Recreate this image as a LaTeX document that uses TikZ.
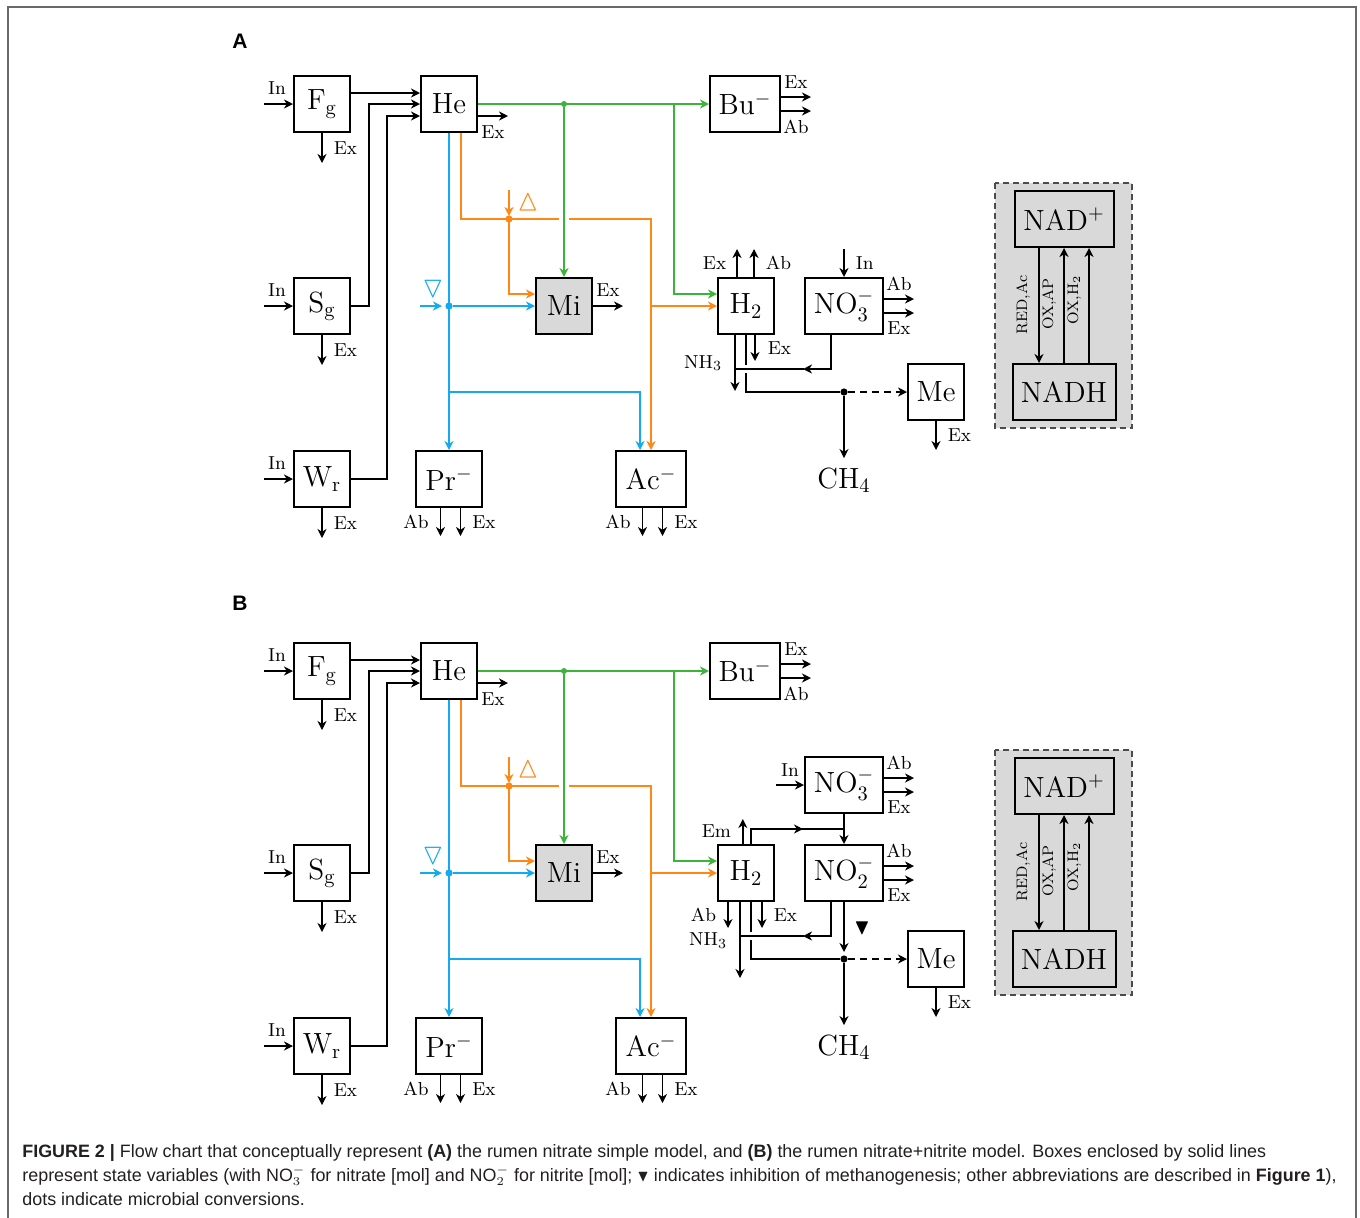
\documentclass[tikz,border=0pt]{standalone}
\usepackage{amssymb}
\usepackage{fontspec}
\usetikzlibrary{arrows.meta,calc}
\newfontfamily\capfont{Liberation Sans}
\definecolor{cgreen}{RGB}{60,180,60}
\definecolor{corange}{RGB}{255,136,20}
\definecolor{cblue}{RGB}{20,170,240}
\definecolor{cgray}{RGB}{217,217,217}
\definecolor{cframe}{RGB}{105,105,105}
\definecolor{ctext}{RGB}{35,31,32}
\tikzset{
  box/.style={draw, line width=1pt, minimum width=28pt, minimum height=28pt, inner sep=0pt, font=\fontsize{14.6}{16}\selectfont},
  lbl/.style={inner sep=0pt, font=\fontsize{9.4}{11}\selectfont},
  rlbl/.style={inner sep=0pt, font=\fontsize{7.6}{9}\selectfont, rotate=90, anchor=base},
  conn/.style={line width=0.8pt},
  arr/.style={conn, -{Stealth[length=4.5pt,width=4.5pt,inset=1.4pt]}},
  dotnode/.style={circle, fill, inner sep=0pt, minimum size=3.6pt},
  tri/.style={inner sep=0pt, font=\fontsize{15}{16}\selectfont},
  panel/.style={font=\capfont\bfseries\fontsize{10.5}{12}\selectfont, inner sep=0pt},
  captext/.style={anchor=base west, inner sep=0pt, font=\capfont\fontsize{8.95}{10}\selectfont, text=ctext},
}
\newcommand{\rumencommon}[1]{%
  % NAD block
  \draw[dash pattern=on 3pt off 2pt, line width=0.6pt, draw=black!70, fill=cgray] (995,183) rectangle (1132,428);
  \node[box, fill=cgray, minimum width=49.5pt] (#1NADp) at (1064,219) {NAD$^+$};
  \node[box, fill=cgray, minimum width=51.5pt] (#1NADH) at (1064,392) {NADH};
  \draw[arr] ([xshift=-12.5pt]#1NADp.south) -- ([xshift=-12.5pt]#1NADH.north);
  \draw[arr] (#1NADH.north) -- (#1NADp.south);
  \draw[arr] ([xshift=12.5pt]#1NADH.north) -- ([xshift=12.5pt]#1NADp.south);
  \node[rlbl] (#1rl1) at (1027,305) {RED,Ac};
  \node[rlbl] (#1rl2) at (1053,304) {OX,AP};
  \node[rlbl] (#1rl3) at (1078,300) {OX,$\mathrm{H_2}$};
  % boxes
  \node[box] (#1Fg) at (322,104) {$\mathrm{F_g}$};
  \node[box] (#1He) at (449,104) {He};
  \node[box, minimum width=35pt] (#1Bu) at (745,104) {$\mathrm{Bu^-}$};
  \node[box] (#1Sg) at (322,306) {$\mathrm{S_g}$};
  \node[box, fill=cgray] (#1Mi) at (564,306) {Mi};
  \node[box] (#1Wr) at (322,479) {$\mathrm{W_r}$};
  \node[box, minimum width=33pt] (#1Pr) at (449,479) {$\mathrm{Pr^-}$};
  \node[box, minimum width=35pt] (#1Ac) at (651,479) {$\mathrm{Ac^-}$};
  \node[box] (#1H2) at (746,306) {$\mathrm{H_2}$};
  \node[box] (#1Me) at (936,392) {Me};
  \node[inner sep=0pt, font=\fontsize{14.6}{16}\selectfont, anchor=base] (#1CH) at (844,488) {$\mathrm{CH_4}$};
  % inputs / outputs of substrates
  \foreach \n in {Fg,Sg,Wr} {
    \draw[arr] (#1\n.west) ++(-29,0) -- (#1\n.west) node[lbl, pos=0.45, above=4.5pt] {In};
    \draw[arr] (#1\n.south) -- ++(0,30) node[lbl, midway, right=5.5pt] {Ex};
  }
  \draw[arr] ([yshift=5.5pt]#1Fg.east) -- ([yshift=5.5pt]#1He.west);
  \draw[arr] (#1Sg.east) -- ++(18,0) |- (#1He.west);
  \draw[arr] (#1Wr.east) -- ++(36,0) |- ([yshift=-6pt]#1He.west);
  \draw[arr] ([yshift=-6pt]#1He.east) -- ++(30,0) node[lbl, midway, below=4.5pt] {Ex};
  % Bu outputs
  \draw[arr] ([yshift=3.5pt]#1Bu.east) -- ++(30,0) node[lbl, midway, above=4pt] {Ex};
  \draw[arr] ([yshift=-3.5pt]#1Bu.east) -- ++(30,0) node[lbl, midway, below=4pt] {Ab};
  % orange
  \coordinate (#1oc) at (509,219);
  \draw[conn, corange] ([xshift=6pt]#1He.south) |- ($(#1oc -| #1Mi.north)+(-5,0)$);
  \draw[arr, corange] ($(#1oc -| #1Mi.north)+(5,0)$) -| (#1Ac.north);
  \draw[arr, corange] (#1oc) |- ([yshift=6pt]#1Mi.west);
  \draw[arr, corange, shorten >=1.5pt] (#1oc) ++(0,-29) -- (#1oc);
  \node[dotnode, corange] (#1od) at (#1oc) {};
  \node[tri, text=corange] (#1ot) at (528,202) {$\vartriangle$};
  \draw[arr, corange] (#1Ac.north |- #1H2.west) -- (#1H2.west);
  % green
  \node[dotnode, cgreen, minimum size=3pt] (#1gd) at (#1He.east -| #1Mi.north) {};
  \draw[arr, cgreen] (#1He.east) -- (#1Bu.west);
  \draw[arr, cgreen] (#1gd) -- (#1Mi.north);
  \draw[arr, cgreen] ([xshift=-17.5pt]#1Bu.west) |- ([yshift=6pt]#1H2.west);
  % blue
  \node[dotnode, cblue] (#1bd) at (#1He.south |- #1Mi.west) {};
  \draw[arr, cblue] (#1He.south) -- (#1He.south |- #1Pr.north);
  \draw[arr, cblue, shorten >=1.5pt] (#1bd) ++(-29,0) -- (#1bd);
  \draw[arr, cblue] (#1bd) -- (#1Mi.west);
  \draw[arr, cblue] (#1He.south |- #1Me.west) -| ([xshift=-5.5pt]#1Ac.north);
  \node[tri, text=cblue] (#1bt) at (433,289) {$\triangledown$};
  % Mi, Me, Pr, Ac outputs
  \draw[arr] (#1Mi.east) -- ++(30,0) node[lbl, midway, above=4.5pt] {Ex};
  \draw[arr] (#1Me.south) -- ++(0,29) node[lbl, midway, right=5.5pt] {Ex};
  \foreach \n in {Pr,Ac} {
    \draw[arr] ([xshift=-4.25pt]#1\n.south) -- ++(0,28) node[lbl, midway, left=5.5pt] {Ab};
    \draw[arr] ([xshift=5.75pt]#1\n.south) -- ++(0,28) node[lbl, midway, right=5.5pt] {Ex};
  }
  % methanogenesis
  \node[dotnode] (#1md) at (#1CH.north |- #1Me.west) {};
  \draw[arr, dash pattern=on 3.5pt off 2.5pt] (#1md) -- (#1Me.west);
  \draw[arr, shorten >=4.5pt] (#1md) -- (#1CH.north);
}
\begin{document}
\begin{tikzpicture}[x=0.5pt, y=-0.5pt]
\useasboundingbox (0,0) rectangle (1360,1217);
\fill[white] (0,0) rectangle (1360,1217);
\draw[cframe, line width=0.8pt] (8,1230) -- (8,7) -- (1356,7) -- (1356,1230);

\node[panel] (labA) at (240,41) {A};
\node[panel] (labB) at (240,603) {B};

% ---------------- Panel A ----------------
\rumencommon{a}
\node[box, minimum width=39pt] (aNO) at (844,306) {$\mathrm{NO_3^-}$};
\draw[arr] (aNO.north) ++(0,-28) -- (aNO.north) node[lbl, midway, right=5.5pt] {In};
\draw[arr] ([yshift=3.5pt]aNO.east) -- ++(30,0) node[lbl, midway, above=4pt] {Ab};
\draw[arr] ([yshift=-3.5pt]aNO.east) -- ++(30,0) node[lbl, midway, below=4pt] {Ex};
\draw[arr] ([xshift=-4.5pt]aH2.north) -- ++(0,-28) node[lbl, midway, left=5pt] {Ex};
\draw[arr] ([xshift=4pt]aH2.north) -- ++(0,-28) node[lbl, midway, right=5.5pt] {Ab};
\draw[arr] ([xshift=-5.5pt]aH2.south) -- ++(0,56) node[lbl, pos=0.5, left=6pt] {NH$_3$};
\draw[arr] ([xshift=4.5pt]aH2.south) -- ++(0,26) node[lbl, midway, right=6pt] {Ex};
\draw[conn] (aH2.south) -- ++(0,30);
\draw[conn] ($(aH2.south)+(0,38)$) |- (amd);
\coordinate (aj) at ($(aNO.south)+(-13,34)$);
\coordinate (anh) at ($(aH2.south)+(-11,0)$);
\draw[arr] ([xshift=-6.5pt]aNO.south) -- (aj) -- ++(-28,0);
\draw[conn] ($(aj)+(-27,0)$) -- (aj -| anh);

% ---------------- Panel B ----------------
\begin{scope}[yshift=-283.5pt]
\rumencommon{b}
\node[box, minimum width=39pt] (bNO) at (844,218) {$\mathrm{NO_3^-}$};
\node[box, minimum width=39pt] (bNT) at (844,306) {$\mathrm{NO_2^-}$};
\draw[arr] (bNO.west) ++(-28,0) -- (bNO.west) node[lbl, midway, above=4pt] {In};
\foreach \n in {NO,NT} {
  \draw[arr] ([yshift=3.5pt]b\n.east) -- ++(30,0) node[lbl, midway, above=4pt] {Ab};
  \draw[arr] ([yshift=-3.5pt]b\n.east) -- ++(30,0) node[lbl, midway, below=4pt] {Ex};
}
\draw[arr] (bNO.south) -- (bNT.north);
\coordinate (bjn) at ($(bNO.south)!0.5!(bNT.north)$);
\draw[arr] ([xshift=-1.6pt]bH2.north) -- ++(0,-25) node[lbl, midway, left=5.5pt] {Em};
\draw[arr] ([xshift=2.5pt]bH2.north) |- ($(bjn)+(-41,0)$);
\draw[conn] ($(bjn)+(-43,0)$) -- (bjn);
\draw[arr] ([xshift=-9pt]bH2.south) -- ++(0,26) node[lbl, midway, left=5.5pt] {Ab};
\draw[arr] ([xshift=-3pt]bH2.south) -- ++(0,76) node[lbl, pos=0.51, left=6pt] {NH$_3$};
\draw[arr] ([xshift=8pt]bH2.south) -- ++(0,26) node[lbl, midway, right=5.5pt] {Ex};
\draw[conn] ([xshift=2.5pt]bH2.south) -- ++(0,30);
\draw[conn] ($(bH2.south)+(5,38)$) |- (bmd);
\coordinate (bj) at ($(bNT.south)+(-13,34)$);
\coordinate (bnh) at ($(bH2.south)+(-6,0)$);
\draw[arr] ([xshift=-6.5pt]bNT.south) -- (bj) -- ++(-28,0);
\draw[conn] ($(bj)+(-27,0)$) -- (bj -| bnh);
\draw[arr, shorten >=1.5pt] (bNT.south) -- (bmd);
\node[tri, font=\fontsize{11}{12}\selectfont] (bit) at (862,361) {$\blacktriangledown$};
\end{scope}

% ---------------- Caption ----------------
\node[captext] (cap1) at (22,1157) {\textbf{FIGURE 2 |} Flow chart that conceptually represent \textbf{(A)} the rumen nitrate simple model, and \textbf{(B)} the rumen nitrate+nitrite model. Boxes enclosed by solid lines};
\node[captext] (cap2) at (22,1181) {represent state variables (with NO$_3^-$ for nitrate [mol] and NO$_2^-$ for nitrite [mol]; {\fontsize{8}{8}\selectfont$\blacktriangledown$} indicates inhibition of methanogenesis; other abbreviations are described in \textbf{Figure 1}),};
\node[captext] (cap3) at (22,1205) {dots indicate microbial conversions.};
\end{tikzpicture}
\end{document}
